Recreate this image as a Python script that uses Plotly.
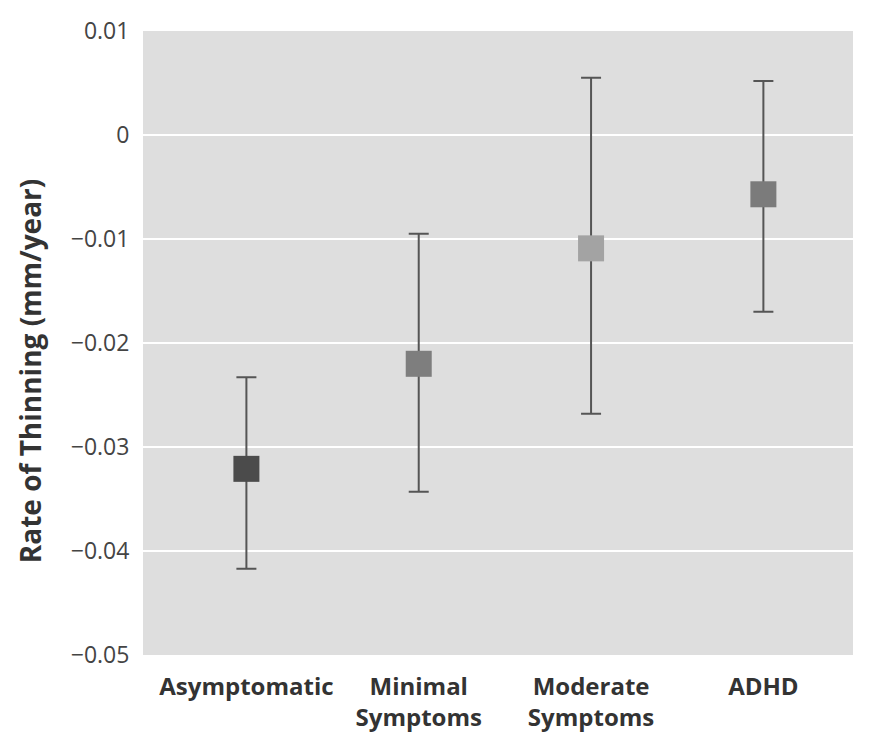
import plotly.graph_objects as go

# Group labels and their cortical thinning rates (mm/year)
groups = ["Asymptomatic", "Minimal<br>Symptoms", "Moderate<br>Symptoms", "ADHD"]
rate = [-0.0321, -0.0220, -0.0109, -0.0057]
upper = [-0.0233, -0.0095, 0.0055, 0.0052]
lower = [-0.0417, -0.0343, -0.0268, -0.0170]
marker_colors = ["#4b4b4b", "#7e7e7e", "#a3a3a3", "#7b7b7b"]

y_ticks = [0.01, 0, -0.01, -0.02, -0.03, -0.04, -0.05]
y_tick_text = ["0.01", "0", "\u22120.01", "\u22120.02", "\u22120.03", "\u22120.04", "\u22120.05"]
y_title = "Rate of Thinning (mm/year)"

x_pos = list(range(len(groups)))
err_plus = [u - r for u, r in zip(upper, rate)]
err_minus = [r - l for r, l in zip(rate, lower)]

fig = go.Figure(
    go.Scatter(
        x=x_pos,
        y=rate,
        mode="markers",
        marker=dict(symbol="square", size=26, color=marker_colors, line=dict(width=0)),
        error_y=dict(
            type="data",
            symmetric=False,
            array=err_plus,
            arrayminus=err_minus,
            color="#555555",
            thickness=2,
            width=10,
        ),
        showlegend=False,
    )
)

fig.update_layout(
    width=884,
    height=751,
    margin=dict(l=143, r=31, t=31, b=96),
    paper_bgcolor="white",
    plot_bgcolor="#dedede",
    font=dict(family="Open Sans", color="#444444"),
    xaxis=dict(
        range=[-0.6, 3.52],
        tickvals=x_pos,
        ticktext=groups,
        showgrid=False,
        zeroline=False,
        ticks="outside",
        ticklen=10,
        tickcolor="rgba(0,0,0,0)",
        tickfont=dict(size=24, family="Open Sans", color="#333333", weight="bold"),
    ),
    yaxis=dict(
        range=[-0.05, 0.01],
        tickvals=y_ticks,
        ticktext=y_tick_text,
        showgrid=True,
        gridcolor="white",
        gridwidth=2,
        zeroline=True,
        zerolinecolor="white",
        zerolinewidth=2,
        ticks="outside",
        ticklen=8,
        tickcolor="rgba(0,0,0,0)",
        tickfont=dict(size=23, color="#444444"),
    ),
    annotations=[
        dict(
            text=y_title,
            xref="paper",
            yref="paper",
            x=-0.159,
            y=0.455,
            xanchor="center",
            yanchor="middle",
            textangle=-90,
            showarrow=False,
            font=dict(size=28, color="#333333", weight="bold"),
        )
    ],
)

fig.write_html("out.html")
